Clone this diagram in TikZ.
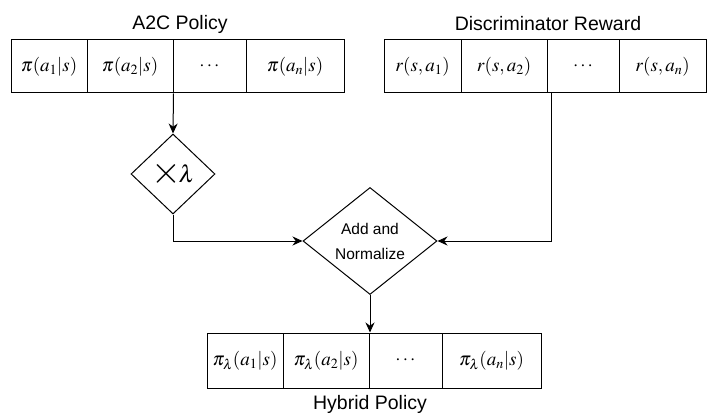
\documentclass[tikz,border=0pt]{standalone}
\usepackage{mathptmx}
\usepackage{fontspec}
\setmainfont{Liberation Sans}
\usetikzlibrary{shapes.geometric,arrows.meta,calc}
\begin{document}
\begin{tikzpicture}[x=1pt,y=-1pt,
  cell/.style={draw,line width=1pt,inner sep=0pt,minimum height=53pt,font=\fontsize{19}{22}\selectfont},
  title/.style={font=\fontsize{19.5}{22}\selectfont,inner sep=0pt},
  decide/.style={draw,line width=1pt,shape=diamond,inner sep=0pt},
  link/.style={line width=1pt,-{Stealth[length=10pt,width=9pt]}}]
\useasboundingbox (0,0) rectangle (707,417);
% A2C policy row
\node[title] (tp) at (180,24) {A2C Policy};
\node[cell,minimum width=76pt] (p1) at (49,66.5) {$\pi(a_1|s)$};
\node[cell,minimum width=86pt] (p2) at (130,66.5) {$\pi(a_2|s)$};
\node[cell,minimum width=73pt] (p3) at (209.5,66.5) {$\cdots$};
\node[cell,minimum width=98pt] (p4) at (295,66.5) {$\pi(a_n|s)$};
% discriminator reward row
\node[title] (tr) at (548,24) {Discriminator Reward};
\node[cell,minimum width=77pt] (r1) at (422.5,66.5) {$r(s,a_1)$};
\node[cell,minimum width=86pt] (r2) at (504,66.5) {$r(s,a_2)$};
\node[cell,minimum width=72pt] (r3) at (583,66.5) {$\cdots$};
\node[cell,minimum width=87pt] (r4) at (662.5,66.5) {$r(s,a_n)$};
% weighting and combination
\node[decide,minimum width=84pt,minimum height=80pt,font=\fontsize{24}{26}\selectfont] (lam) at (173,174) {\raisebox{-0.05em}{\scalebox{1.6}{$\times$}}\kern-0.1em$\lambda$};
\node[decide,minimum width=134pt,minimum height=107pt,font=\fontsize{15.5}{25}\selectfont,align=center] (add) at (370,241) {Add and\\Normalize};
% hybrid policy row
\node[cell,minimum width=76pt,minimum height=55pt] (h1) at (245,360.5) {$\pi_\lambda(a_1|s)$};
\node[cell,minimum width=86pt,minimum height=55pt] (h2) at (326,360.5) {$\pi_\lambda(a_2|s)$};
\node[cell,minimum width=73pt,minimum height=55pt] (h3) at (405.5,360.5) {$\cdots$};
\node[cell,minimum width=99pt,minimum height=55pt] (h4) at (491.5,360.5) {$\pi_\lambda(a_n|s)$};
\node[title] (th) at (370,404) {Hybrid Policy};
% connectors
\draw[link] (p2.south east) -- (lam.north);
\draw[link] (lam.south) |- (add.west);
\draw[link] ($(r3.south west)+(5,0)$) |- (add.east);
\draw[link] (add.south) -- (add.south |- h2.north);
\end{tikzpicture}
\end{document}
